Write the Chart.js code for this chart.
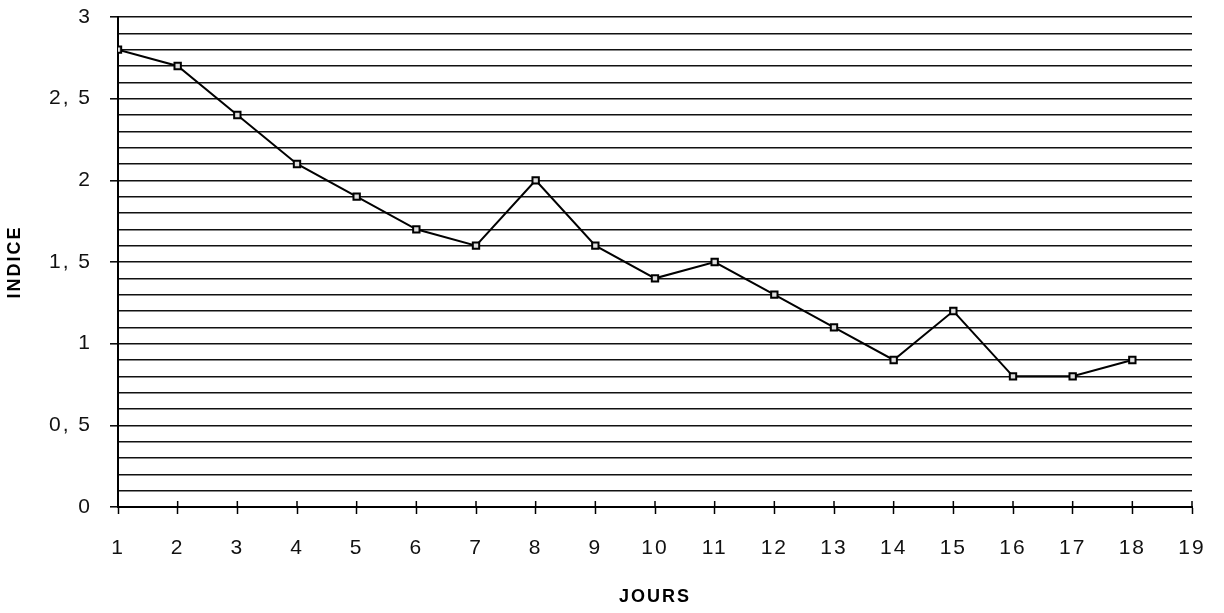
<!DOCTYPE html>
<html>
<head>
<meta charset="utf-8">
<script src="https://cdn.jsdelivr.net/npm/chart.js@4/dist/chart.umd.min.js"></script>
<style>
  body { margin: 0; background: #fff; }
  #wrap { width: 1224px; height: 613px; }
</style>
</head>
<body>
<div id="wrap"><canvas id="indiceChart"></canvas></div>
<script>
// indice par jour
const days = [1, 2, 3, 4, 5, 6, 7, 8, 9, 10, 11, 12, 13, 14, 15, 16, 17, 18];
const indice = [2.8, 2.7, 2.4, 2.1, 1.9, 1.7, 1.6, 2.0, 1.6, 1.4, 1.5, 1.3, 1.1, 0.9, 1.2, 0.8, 0.8, 0.9];
const yTickLabels = ['0', '0, 5', '1', '1, 5', '2', '2, 5', '3'];

const tickFont = { family: 'Liberation Sans', size: 21 };
const titleFont = { family: 'Liberation Sans', size: 18, weight: 'bold' };

// wider letter spacing for all canvas text
const spacing = {
  id: 'spacing',
  beforeInit(chart) { chart.ctx.letterSpacing = '2px'; },
  beforeDraw(chart) { chart.ctx.letterSpacing = '2px'; }
};

// short marks above the x axis so the day ticks cross it
const crossTicks = {
  id: 'crossTicks',
  afterDraw(chart) {
    const ctx = chart.ctx;
    const xs = chart.scales.x;
    const yBase = chart.chartArea.bottom;
    ctx.save();
    ctx.strokeStyle = '#000';
    ctx.lineWidth = 1.5;
    xs.ticks.forEach(t => {
      const px = xs.getPixelForValue(t.value);
      ctx.beginPath();
      ctx.moveTo(px, yBase - 6);
      ctx.lineTo(px, yBase);
      ctx.stroke();
    });
    ctx.restore();
  }
};

new Chart(document.getElementById('indiceChart'), {
  type: 'line',
  data: {
    datasets: [{
      data: days.map((d, i) => ({ x: d, y: indice[i] })),
      borderColor: '#000',
      borderWidth: 2,
      pointStyle: 'rect',
      pointRadius: 4.5,
      pointBorderWidth: 2,
      pointBorderColor: '#000',
      pointBackgroundColor: '#ddd',
      tension: 0
    }]
  },
  options: {
    responsive: true,
    maintainAspectRatio: false,
    animation: false,
    layout: { padding: { top: 17, right: 32, left: 0, bottom: 0 } },
    plugins: { legend: { display: false }, tooltip: { enabled: false } },
    scales: {
      x: {
        type: 'linear',
        min: 1,
        max: 19,
        afterFit(scale) {
          scale.height = 106;
          scale.paddingLeft = 0;
          scale.paddingRight = 0;
        },
        ticks: { stepSize: 1, color: '#111', font: tickFont, padding: 22, autoSkip: false },
        grid: { drawOnChartArea: false, drawTicks: true, tickLength: 7, tickColor: '#000', tickWidth: 1.5 },
        border: { color: '#000', width: 2 },
        title: { display: true, text: 'JOURS', color: '#000', font: titleFont, padding: { top: 0, bottom: 5 } }
      },
      y: {
        min: 0,
        max: 3,
        afterFit(scale) {
          scale.width = 118;
          scale.paddingTop = 0;
          scale.paddingBottom = 0;
        },
        ticks: {
          stepSize: 0.1,
          maxTicksLimit: 40,
          autoSkip: false,
          color: '#111',
          font: tickFont,
          padding: 18,
          callback: v => {
            const k = Math.round(v * 10);
            return k % 5 === 0 ? yTickLabels[k / 5] : '';
          }
        },
        grid: {
          color: '#111',
          lineWidth: 1.6,
          tickLength: 8,
          tickWidth: 1.5,
          tickColor: c => (Math.round(c.tick.value * 10) % 5 === 0 ? '#000' : 'rgba(0,0,0,0)')
        },
        border: { color: '#000', width: 2 },
        title: { display: true, text: 'INDICE', color: '#000', font: titleFont, padding: { top: 4, bottom: 0 } }
      }
    }
  },
  plugins: [spacing, crossTicks]
});
</script>
</body>
</html>
